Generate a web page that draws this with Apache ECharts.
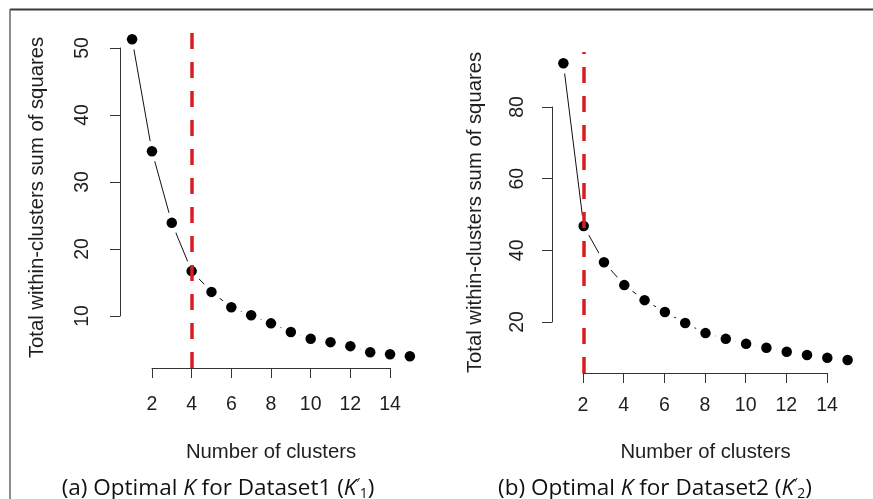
<!DOCTYPE html>
<html><head><meta charset="utf-8">
<script src="https://cdn.jsdelivr.net/npm/echarts@6/dist/echarts.min.js"></script>
<style>html,body{margin:0;padding:0;background:#fff}#c{width:873px;height:499px}</style>
</head><body><div id="c"></div>
<script>
// ---- data ----
const clusters = [1, 2, 3, 4, 5, 6, 7, 8, 9, 10, 11, 12, 13, 14, 15];
const wss1 = [51.3, 34.6, 23.9, 16.7, 13.6, 11.3, 10.1, 8.9, 7.6, 6.6, 6.1, 5.5, 4.6, 4.3, 4.0];
const wss2 = [92.2, 46.8, 36.7, 30.3, 26.1, 22.8, 19.7, 16.9, 15.3, 13.9, 12.8, 11.7, 10.8, 10.0, 9.4];
const optimalK = [4, 2];
const xTickRange = [2, 14, 2];          // min, max, step of x tick labels
const yTickRange1 = [10, 50, 10];
const yTickRange2 = [20, 80, 20];
const yTitle = 'Total within-clusters sum of squares';
const xTitle = 'Number of clusters';
const captions = [
  '(a) Optimal {i|K} for Dataset1 ({i|K}{p|′}{s|1})',
  '(b) Optimal {i|K} for Dataset2 ({i|K}{p|′}{s|2})'
];

// ---- layout (pixels) ----
const panels = [
  { wss: wss1, yTicks: yTickRange1,
    plot: {left: 121, top: 27, width: 300, height: 341}, xr: [0.44, 15.56], yr: [2.24, 53.13],
    xAx: {left: 152, width: 238, top: 367}, yAx: {left: 120, top: 48, height: 268},
    xLabMargin: 27, yLabMargin: 27, xNameGap: 74, yNameGap: 74, capX: 218 },
  { wss: wss2, yTicks: yTickRange2,
    plot: {left: 552, top: 52, width: 307, height: 321}, xr: [0.44, 15.56], yr: [5.77, 95.35],
    xAx: {left: 583, width: 244, top: 372}, yAx: {left: 552, top: 107, height: 215},
    xLabMargin: 23, yLabMargin: 24, xNameGap: 69, yNameGap: 67, capX: 655 }
];

const FONT = '"Liberation Sans", Arial, Helvetica, sans-serif';
const CAPFONT = '"Open Sans", sans-serif';
const TXT = '#1e1e1e';
const AX = '#333';
const RED = '#d81c24';

const grid = [], xAxis = [], yAxis = [], series = [], title = [];
panels.forEach((p, pi) => {
  const base = pi * 3;
  grid.push({ left: p.plot.left, top: p.plot.top, width: p.plot.width, height: p.plot.height });
  grid.push({ left: p.xAx.left, top: p.xAx.top, width: p.xAx.width, height: 1 });
  grid.push({ left: p.yAx.left, top: p.yAx.top, width: 1, height: p.yAx.height });
  // data grid axes (names only)
  xAxis.push({ gridIndex: base, type: 'value', min: p.xr[0], max: p.xr[1],
    axisLine: {show: false}, axisTick: {show: false}, axisLabel: {show: false}, splitLine: {show: false},
    name: xTitle, nameLocation: 'middle', nameGap: p.xNameGap,
    nameTextStyle: {fontFamily: FONT, fontSize: 20.3, color: TXT} });
  yAxis.push({ gridIndex: base, type: 'value', min: p.yr[0], max: p.yr[1],
    axisLine: {show: false}, axisTick: {show: false}, axisLabel: {show: false}, splitLine: {show: false},
    name: yTitle, nameLocation: 'middle', nameGap: p.yNameGap, nameRotate: 90,
    nameTextStyle: {fontFamily: FONT, fontSize: 20.3, color: TXT} });
  // x-axis-only grid
  xAxis.push({ gridIndex: base + 1, type: 'value', min: xTickRange[0], max: xTickRange[1], interval: xTickRange[2],
    axisLine: {show: true, lineStyle: {color: AX, width: 1}},
    axisTick: {show: true, length: 10, lineStyle: {color: AX, width: 1}},
    axisLabel: {show: true, margin: p.xLabMargin, fontFamily: FONT, fontSize: 19.5, color: TXT},
    splitLine: {show: false} });
  yAxis.push({ gridIndex: base + 1, type: 'value', show: false, min: 0, max: 1 });
  // y-axis-only grid
  xAxis.push({ gridIndex: base + 2, type: 'value', show: false, min: 0, max: 1 });
  yAxis.push({ gridIndex: base + 2, type: 'value', min: p.yTicks[0], max: p.yTicks[1], interval: p.yTicks[2],
    axisLine: {show: true, lineStyle: {color: AX, width: 1}},
    axisTick: {show: true, length: 10, lineStyle: {color: AX, width: 1}},
    axisLabel: {show: true, rotate: 90, margin: p.yLabMargin, fontFamily: FONT, fontSize: 19.5, color: TXT},
    splitLine: {show: false} });

  const data = clusters.map((k, i) => [k, p.wss[i]]);
  series.push({ type: 'line', xAxisIndex: base, yAxisIndex: base, data, symbol: 'none',
    lineStyle: {color: '#111', width: 1}, z: 2, silent: true, animation: false });
  series.push({ type: 'scatter', xAxisIndex: base, yAxisIndex: base, data, symbolSize: 21,
    itemStyle: {color: '#fff', opacity: 1}, z: 3, silent: true, animation: false });
  series.push({ type: 'scatter', xAxisIndex: base, yAxisIndex: base, data, symbolSize: 10.5,
    itemStyle: {color: '#000', opacity: 1}, z: 4, silent: true, animation: false,
    markLine: { silent: true, symbol: ['none', 'none'], animation: false, z: 6,
      label: {show: false},
      lineStyle: {color: RED, width: 3.5, type: [16, 13], dashOffset: 0, cap: 'butt', opacity: 1},
      data: [{ xAxis: optimalK[pi] }] } });

  title.push({ text: captions[pi], left: p.capX, top: 477, textAlign: 'center', padding: 0,
    textStyle: { fontFamily: CAPFONT, fontSize: 22.5, fontWeight: 'normal', color: '#111',
      rich: {
        i: {fontFamily: CAPFONT, fontSize: 22.5, fontStyle: 'italic', color: '#111'},
        p: {fontFamily: CAPFONT, fontSize: 14, color: '#111', verticalAlign: 'top', padding: [0, 0, 10, 0]},
        s: {fontFamily: CAPFONT, fontSize: 14, color: '#111', verticalAlign: 'bottom', padding: [7, 0, 0, 0]}
      } } });
});

const chart = echarts.init(document.getElementById('c'), null, {renderer: 'canvas'});
chart.setOption({
  animation: false,
  backgroundColor: '#fff',
  title, grid, xAxis, yAxis, series,
  graphic: [
    { type: 'line', shape: {x1: 10, y1: 9.5, x2: 873, y2: 9.5}, style: {stroke: '#3a3a3a', lineWidth: 2}, silent: true },
    { type: 'line', shape: {x1: 10, y1: 9, x2: 10, y2: 499}, style: {stroke: '#666', lineWidth: 1.5}, silent: true }
  ]
});
</script>
</body></html>
